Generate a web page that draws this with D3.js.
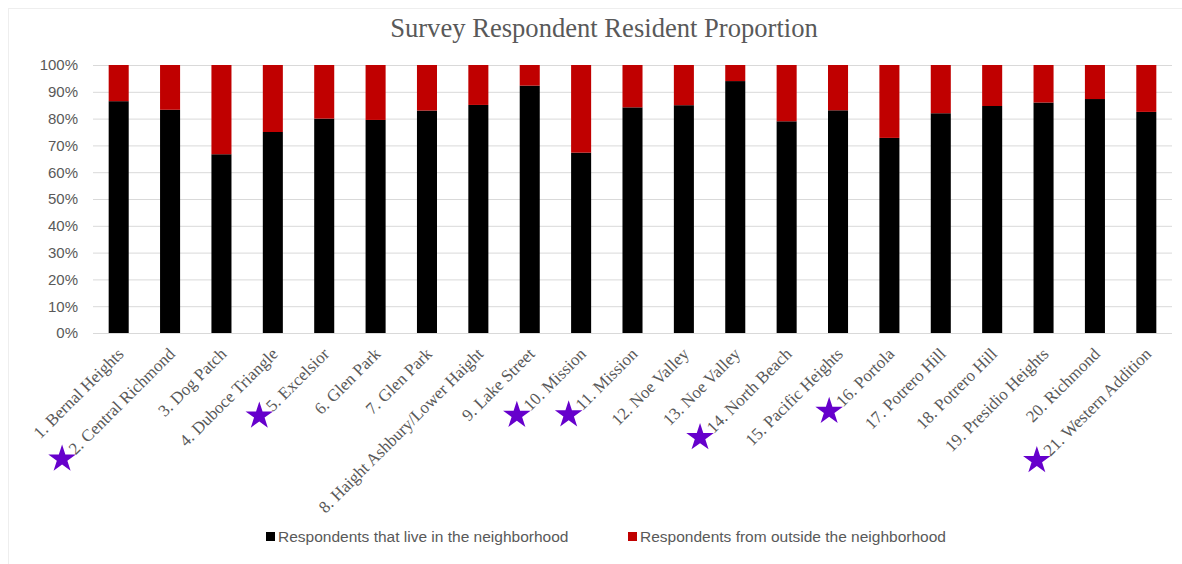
<!doctype html>
<html lang="en">
    <head>
        <meta charset="utf-8">
        <title>Survey Respondent Resident Proportion</title>
        <script src="https://cdn.jsdelivr.net/npm/d3@7"></script>
        <style>
            body { margin: 0; background: #fff; }
        </style>
    </head>
    <body>
        <script>
            var categories = [
                "1. Bernal Heights", "2. Central Richmond", "3. Dog Patch", "4. Duboce Triangle",
                "5. Excelsior", "6. Glen Park", "7. Glen Park", "8. Haight Ashbury/Lower Haight",
                "9. Lake Street", "10. Mission", "11. Mission", "12. Noe Valley", "13. Noe Valley",
                "14. North Beach", "15. Pacific Heights", "16. Portola", "17. Potrero Hill",
                "18. Potrero Hill", "19. Presidio Heights", "20. Richmond", "21. Western Addition"
            ];
            // share of respondents living in the neighborhood
            var liveIn = [0.865, 0.833, 0.667, 0.75, 0.80, 0.795, 0.83, 0.851, 0.923, 0.673, 0.842,
                          0.85, 0.94, 0.79, 0.831, 0.728, 0.82, 0.847, 0.86, 0.873, 0.825];
            // share of respondents from outside
            var outside = [0.135, 0.167, 0.333, 0.25, 0.20, 0.205, 0.17, 0.149, 0.077, 0.327, 0.158,
                           0.15, 0.06, 0.21, 0.169, 0.272, 0.18, 0.153, 0.14, 0.127, 0.175];
            var starred = ["2. Central Richmond", "5. Excelsior", "10. Mission", "11. Mission",
                           "14. North Beach", "16. Portola", "21. Western Addition"];
            var yTicks = [0, 0.1, 0.2, 0.3, 0.4, 0.5, 0.6, 0.7, 0.8, 0.9, 1];
            var seriesNames = ["Respondents that live in the neighborhood",
                               "Respondents from outside the neighborhood"];
            var seriesColors = ["#000000", "#c00000"];

            var W = 1182, H = 564;
            var margin = {top: 65, right: 10, bottom: 231, left: 93};

            var rows = categories.map((c, i) => ({cat: c, live: liveIn[i], out: outside[i]}));
            var stack = d3.stack().keys(["live", "out"]).offset(d3.stackOffsetExpand);
            var layers = stack(rows);

            var x = d3.scaleBand()
                      .domain(categories)
                      .range([margin.left, 1172])
                      .paddingInner(0.61)
                      .paddingOuter(0.305);
            var y = d3.scaleLinear()
                      .domain([0, 1])
                      .range([333, margin.top]);

            var svg = d3.select("body")
                        .append("svg")
                        .attr("width", W)
                        .attr("height", H);

            svg.append("rect")
               .attr("x", 8.5).attr("y", 8.5)
               .attr("width", 1180).attr("height", 560)
               .attr("fill", "#fff")
               .attr("stroke", "#eeeeee");

            svg.append("text")
               .text("Survey Respondent Resident Proportion")
               .attr("x", 604)
               .attr("y", 37)
               .attr("text-anchor", "middle")
               .attr("font-family", "Liberation Serif, serif")
               .attr("font-size", "26.6px")
               .attr("fill", "#595959");

            // gridlines + y labels
            var yAxis = d3.axisLeft(y)
                          .tickValues(yTicks)
                          .tickFormat(d3.format(".0%"))
                          .tickSize(-(1172 - margin.left))
                          .tickPadding(15);
            var gy = svg.append("g")
                        .attr("transform", "translate(" + margin.left + ",0)")
                        .call(yAxis);
            gy.select(".domain").remove();
            gy.selectAll(".tick line").attr("stroke", "#d9d9d9");
            gy.selectAll(".tick text")
              .attr("font-family", "Liberation Sans, sans-serif")
              .attr("font-size", "15px")
              .attr("fill", "#595959");

            svg.append("g")
               .selectAll("g")
               .data(layers)
               .join("g")
               .attr("fill", (d, i) => seriesColors[i])
               .selectAll("rect")
               .data(d => d)
               .join("rect")
               .attr("x", d => x(d.data.cat))
               .attr("y", d => y(d[1]))
               .attr("height", d => y(d[0]) - y(d[1]))
               .attr("width", x.bandwidth());

            // category labels, rotated
            var labelY = 346;
            var labels = svg.append("g")
                            .selectAll("text")
                            .data(categories)
                            .join("text")
                            .text(d => d)
                            .attr("transform", d => "translate(" + (x(d) + x.bandwidth() / 2 - 3) + "," + labelY + ") rotate(-45)")
                            .attr("dy", "0.75em")
                            .attr("text-anchor", "end")
                            .attr("font-family", "Liberation Serif, serif")
                            .attr("font-size", "17px")
                            .attr("fill", "#595959");

            // stars ahead of highlighted labels
            var star = d3.symbol().type(d3.symbolStar).size(236);
            labels.each(function(d) {
                if (starred.indexOf(d) < 0) return;
                var L = this.getComputedTextLength() + 12;
                var ax = x(d) + x.bandwidth() / 2 - 3;
                var sx = ax - L * Math.SQRT1_2 + 4;
                var sy = labelY + L * Math.SQRT1_2 + 4;
                svg.append("path")
                   .attr("d", star())
                   .attr("transform", "translate(" + sx + "," + sy + ")")
                   .attr("fill", "#6600cc");
            });

            // legend
            var legendX = [266, 628];
            var legend = svg.append("g")
                            .selectAll("g")
                            .data(seriesNames)
                            .join("g")
                            .attr("transform", (d, i) => "translate(" + legendX[i] + ",532)");
            legend.append("rect")
                  .attr("width", 9).attr("height", 9)
                  .attr("fill", (d, i) => seriesColors[i]);
            legend.append("text")
                  .text(d => d)
                  .attr("x", 12)
                  .attr("y", 10)
                  .attr("font-family", "Liberation Sans, sans-serif")
                  .attr("font-size", "15.5px")
                  .attr("fill", "#595959");
        </script>
    </body>
</html>
